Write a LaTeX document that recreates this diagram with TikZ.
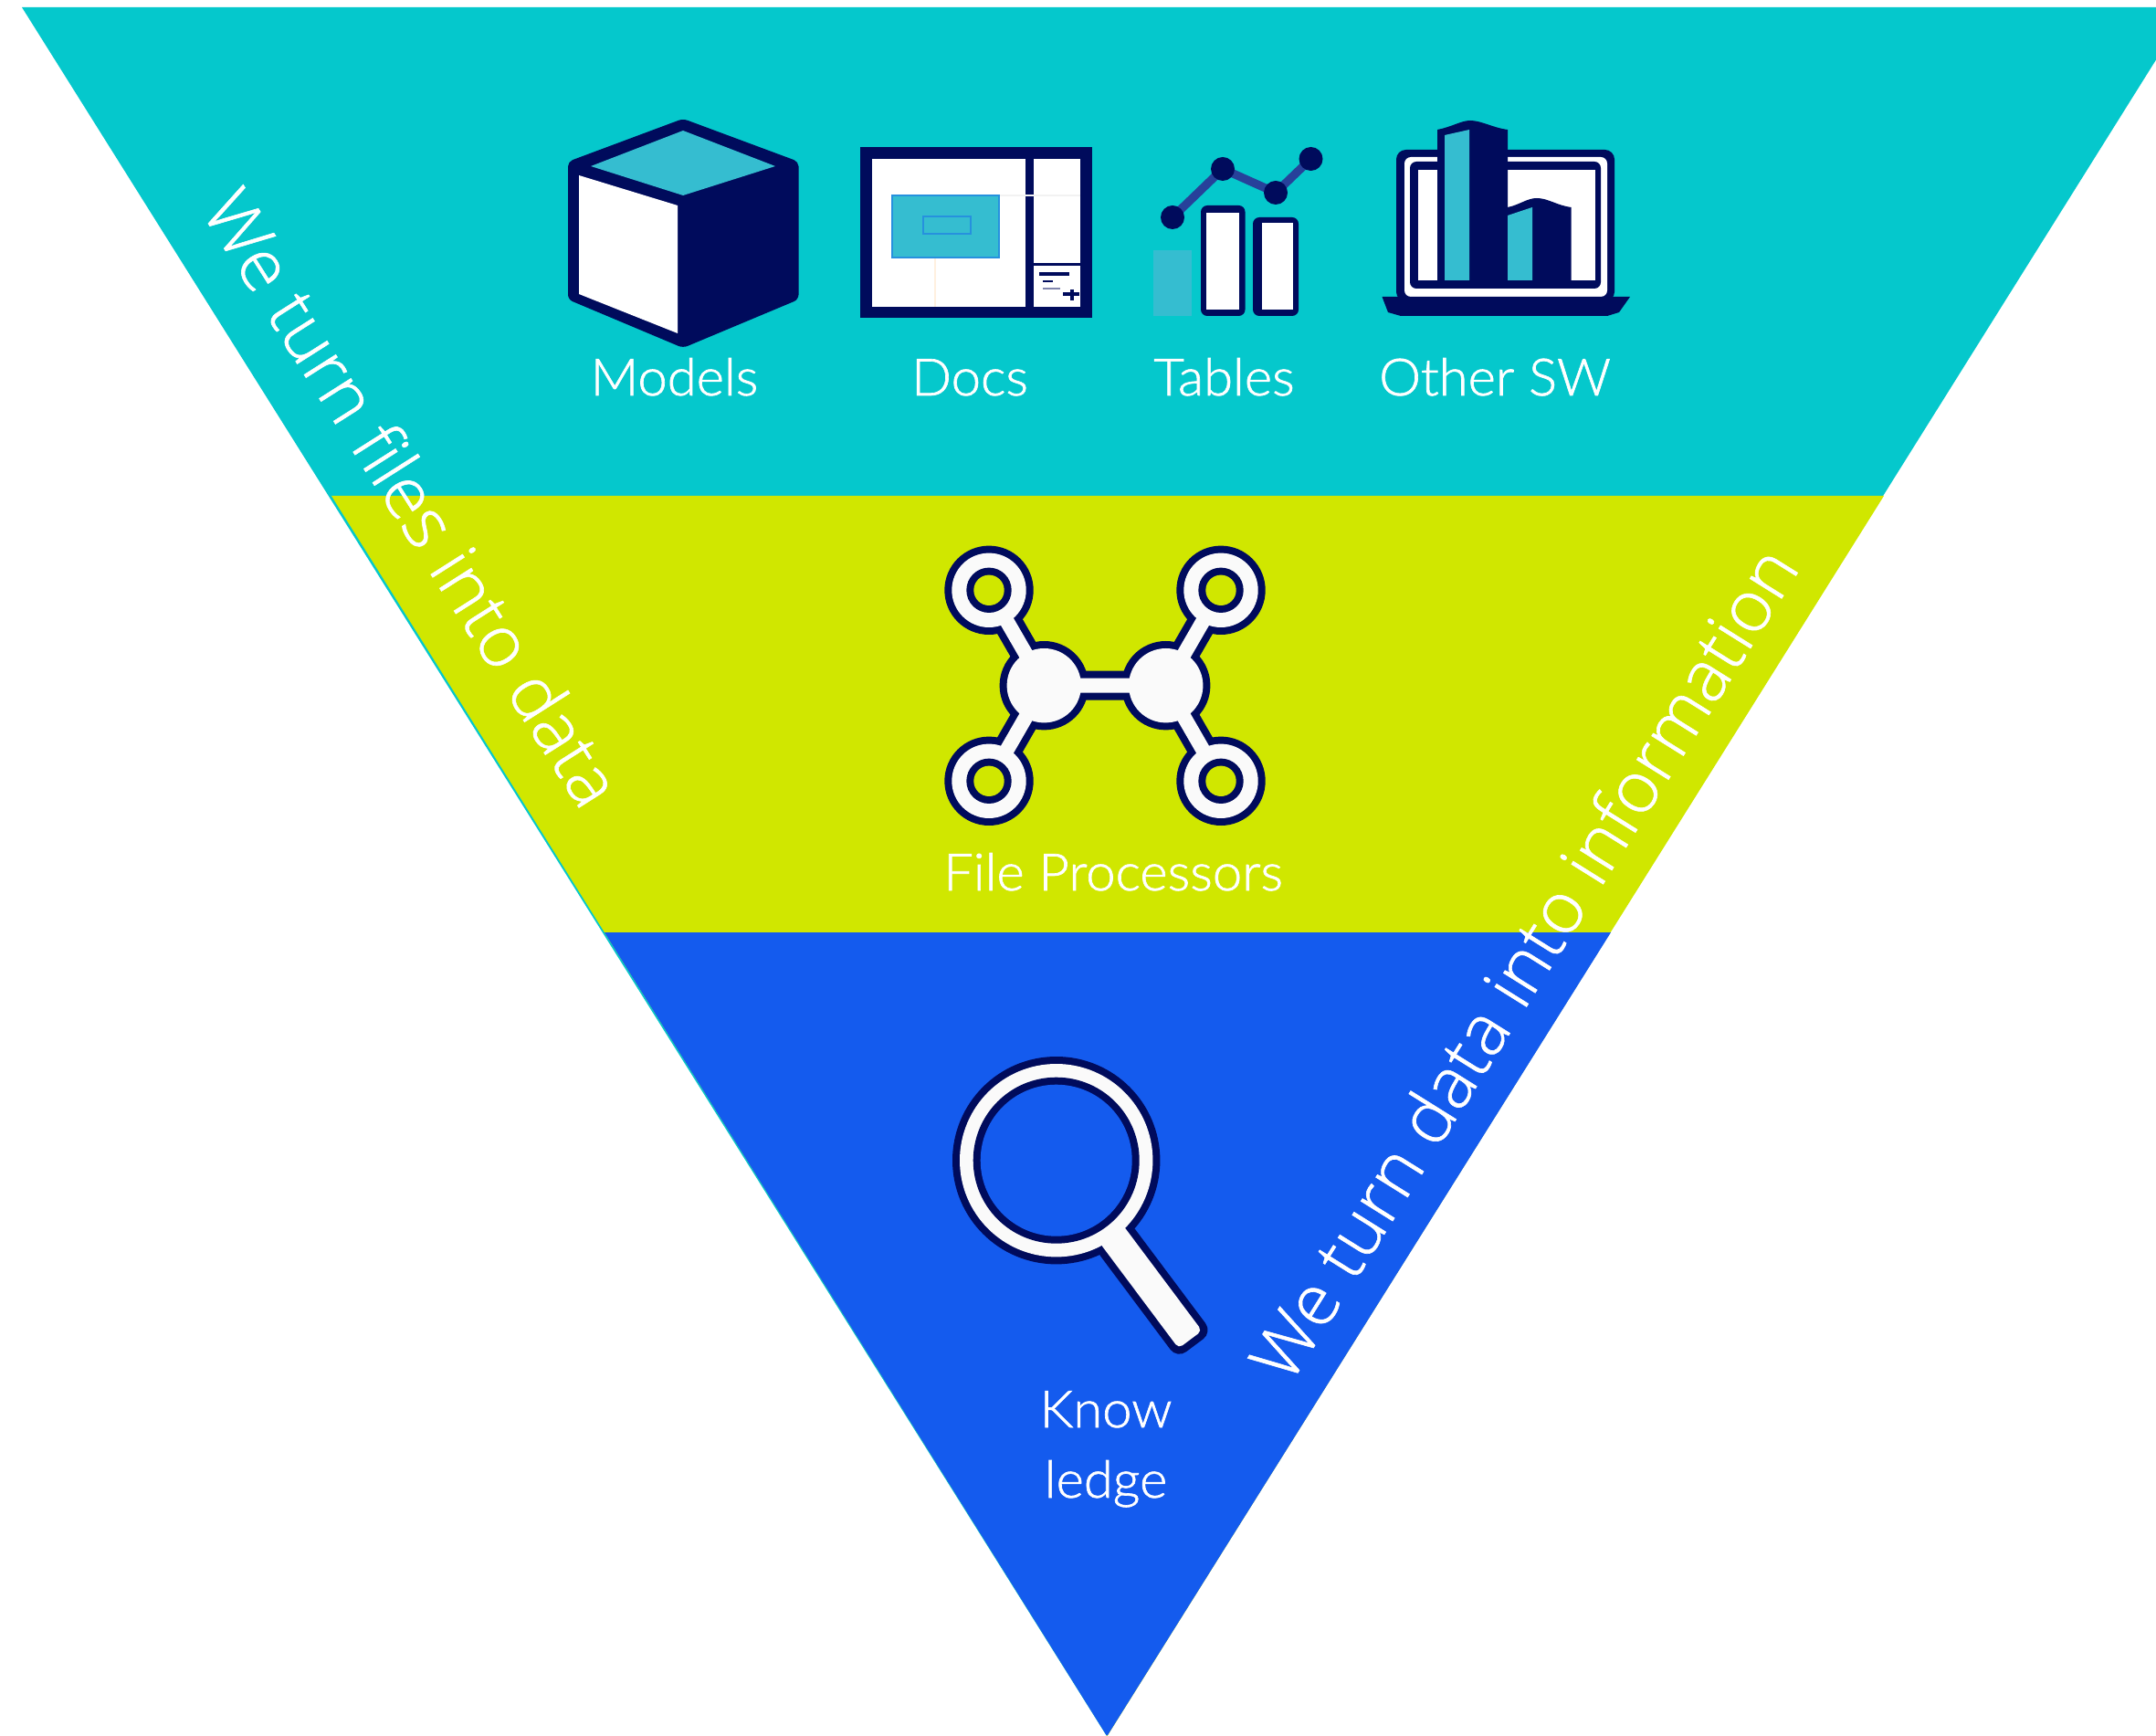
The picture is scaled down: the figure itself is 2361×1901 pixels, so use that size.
\documentclass[tikz,border=0pt]{standalone}
\usepackage{fontspec}
\setmainfont[FakeBold=1.2,FakeStretch=1.03]{Lato Light}
\newfontfamily\slantfont[FakeBold=0.8,FakeStretch=1.025]{Open Sans Light}
\definecolor{teal1}{HTML}{05C8CC}
\definecolor{lime1}{HTML}{D0E700}
\definecolor{blue1}{HTML}{145BEE}
\definecolor{navy1}{HTML}{000B5C}
\definecolor{aqua1}{HTML}{35BDD0}
\definecolor{off1}{HTML}{FAFAFA}
\definecolor{line1}{HTML}{27419A}
\tikzset{
  lbl/.style={text=white,inner sep=0pt,anchor=base,font=\fontsize{16}{18}\selectfont},
  slant/.style={text=white,inner sep=0pt,anchor=base,font=\slantfont\fontsize{22}{26}\selectfont},
}
\begin{document}
\begin{tikzpicture}[x=0.01cm,y=-0.01cm]
\useasboundingbox (0,0) rectangle (2361,1901);
\begin{scope}
\clip (0,0) rectangle (2361,1901);
% bands
\fill[teal1] (24,8) -- (2397,8) -- (1212,1901) -- cycle;
\fill[lime1] (363,543) -- (2063,543) -- (1212.5,1901) -- cycle;
\fill[blue1] (662,1021) -- (1764,1021) -- (1213,1900) -- (1211.5,1900) -- cycle;
\end{scope}
% cube
\fill[navy1,rounded corners=1.5pt] (748,130) -- (874.5,177) -- (874.5,328) -- (748,381) -- (622,328) -- (622,177) -- cycle;
\fill[aqua1] (748,143) -- (849,182) -- (748,214) -- (647,182) -- cycle;
\fill[white] (634,192) -- (742,225) -- (742,365) -- (634,322) -- cycle;
% docs
\fill[navy1] (942,161) rectangle (1196,348);
\fill[white] (954.5,174) rectangle (1122.6,336);
\fill[white] (1131.6,174) rectangle (1183,288);
\fill[white] (1131.6,291) rectangle (1183,336);
\draw[black!5,line width=0.3pt] (1094,214) -- (1183,214);
\draw[orange!12,line width=0.3pt] (1024,282) -- (1024,336);
\fill[aqua1,draw=blue1!45!aqua1,line width=0.6pt] (977,214) rectangle (1094,282);
\draw[blue1!45!aqua1,line width=0.8pt] (1011,237) rectangle (1063,256);
\draw[navy1,line width=0.9pt] (1138,300) -- (1171,300);
\draw[navy1,line width=0.7pt] (1142,308) -- (1153,308);
\draw[navy1!50,line width=0.5pt] (1142,316) -- (1161,316);
\draw[navy1,line width=0.9pt] (1164,322) -- (1182,322);
\draw[navy1,line width=0.9pt] (1174,317) -- (1174,329);
% tables
\fill[aqua1] (1263,274) rectangle (1305,346);
\fill[navy1,rounded corners=2pt] (1315,225) rectangle (1363.5,346);
\fill[white] (1321,233) rectangle (1357,339);
\fill[navy1,rounded corners=2pt] (1372,238) rectangle (1422,346);
\fill[white] (1381.5,244) rectangle (1416,339);
\coordinate (d1) at (1284,238);
\coordinate (d2) at (1339,185);
\coordinate (d3) at (1397,211);
\coordinate (d4) at (1435.5,174);
\draw[color=line1,line width=2.6pt] (d1) -- (d2) -- (d3) -- (d4);
\foreach \p in {d1,d2,d3,d4} \fill[navy1] (\p) circle (13);
% laptop
\fill[navy1,rounded corners=3pt] (1529,164) rectangle (1768,330);
\fill[white,rounded corners=2pt] (1538,172) rectangle (1760,325);
\fill[navy1,rounded corners=2pt] (1544,177) rectangle (1753,316);
\fill[white] (1553,186) rectangle (1747,307);
\fill[navy1] (1513.5,325) -- (1785,325) -- (1773,342) -- (1760,346) -- (1534,346) -- (1520,342) -- cycle;
\fill[navy1] (1574,142) .. controls (1590,139) and (1600,132) .. (1610,132) .. controls (1622,132) and (1635,140) .. (1651,142) -- (1651,307) -- (1574,307) -- cycle;
\fill[aqua1] (1582,148) -- (1609,142) -- (1609,307) -- (1582,307) -- cycle;
\fill[navy1] (1651,227) .. controls (1665,224) and (1672,217) .. (1683,217) .. controls (1695,217) and (1705,225) .. (1720.6,227) -- (1720.6,307) -- (1651,307) -- cycle;
\fill[aqua1] (1651,236) -- (1678,227) -- (1678,307) -- (1651,307) -- cycle;
% hub
\coordinate (h1) at (1083,646.3);
\coordinate (h2) at (1337,646.3);
\coordinate (h3) at (1083,855.3);
\coordinate (h4) at (1337,855.3);
\coordinate (c1) at (1143.3,750.7);
\coordinate (c2) at (1276.7,750.7);
\foreach \p in {h1,h2,h3,h4,c1,c2} \fill[navy1] (\p) circle (48.7);
\draw[navy1,line width=9.1pt] (h1) -- (c1) -- (h3) (c1) -- (c2) (h2) -- (c2) -- (h4);
\foreach \p in {h1,h2,h3,h4,c1,c2} \fill[off1] (\p) circle (40.7);
\draw[off1,line width=4.55pt] (h1) -- (c1) -- (h3) (c1) -- (c2) (h2) -- (c2) -- (h4);
\foreach \p in {h1,h2,h3,h4} {\fill[navy1] (\p) circle (24.7); \fill[lime1] (\p) circle (16.7);}
% magnifier
\coordinate (m) at (1156.7,1270.7);
\fill[navy1] (m) circle (113.7);
\begin{scope}[shift={(m)},rotate=-53.2]
\fill[navy1,rounded corners=3.5pt] (100,-24) rectangle (253,24);
\end{scope}
\fill[off1] (m) circle (105.7);
\begin{scope}[shift={(m)},rotate=-53.2]
\fill[off1,rounded corners=1.5pt] (100,-16) rectangle (245,16);
\end{scope}
\fill[navy1] (m) circle (91);
\fill[blue1] (m) circle (83);
% labels
\node[lbl] (tm) at (738.5,433) {Models};
\node[lbl] (td) at (1062,433) {Docs};
\node[lbl] (tt) at (1340.5,433) {Tables};
\node[lbl] (to) at (1637,433) {Other SW};
\node[lbl] (tf) at (1219,975) {File Processors};
\node[lbl] (tk) at (1211,1563) {Know};
\node[lbl] (tl) at (1211,1640) {ledge};
\node[slant,rotate=-57.6] (s1) at (428,560) {We turn files into data};
\node[slant,rotate=58] (s2) at (1692,1070) {We turn data into information};
\end{tikzpicture}
\end{document}
